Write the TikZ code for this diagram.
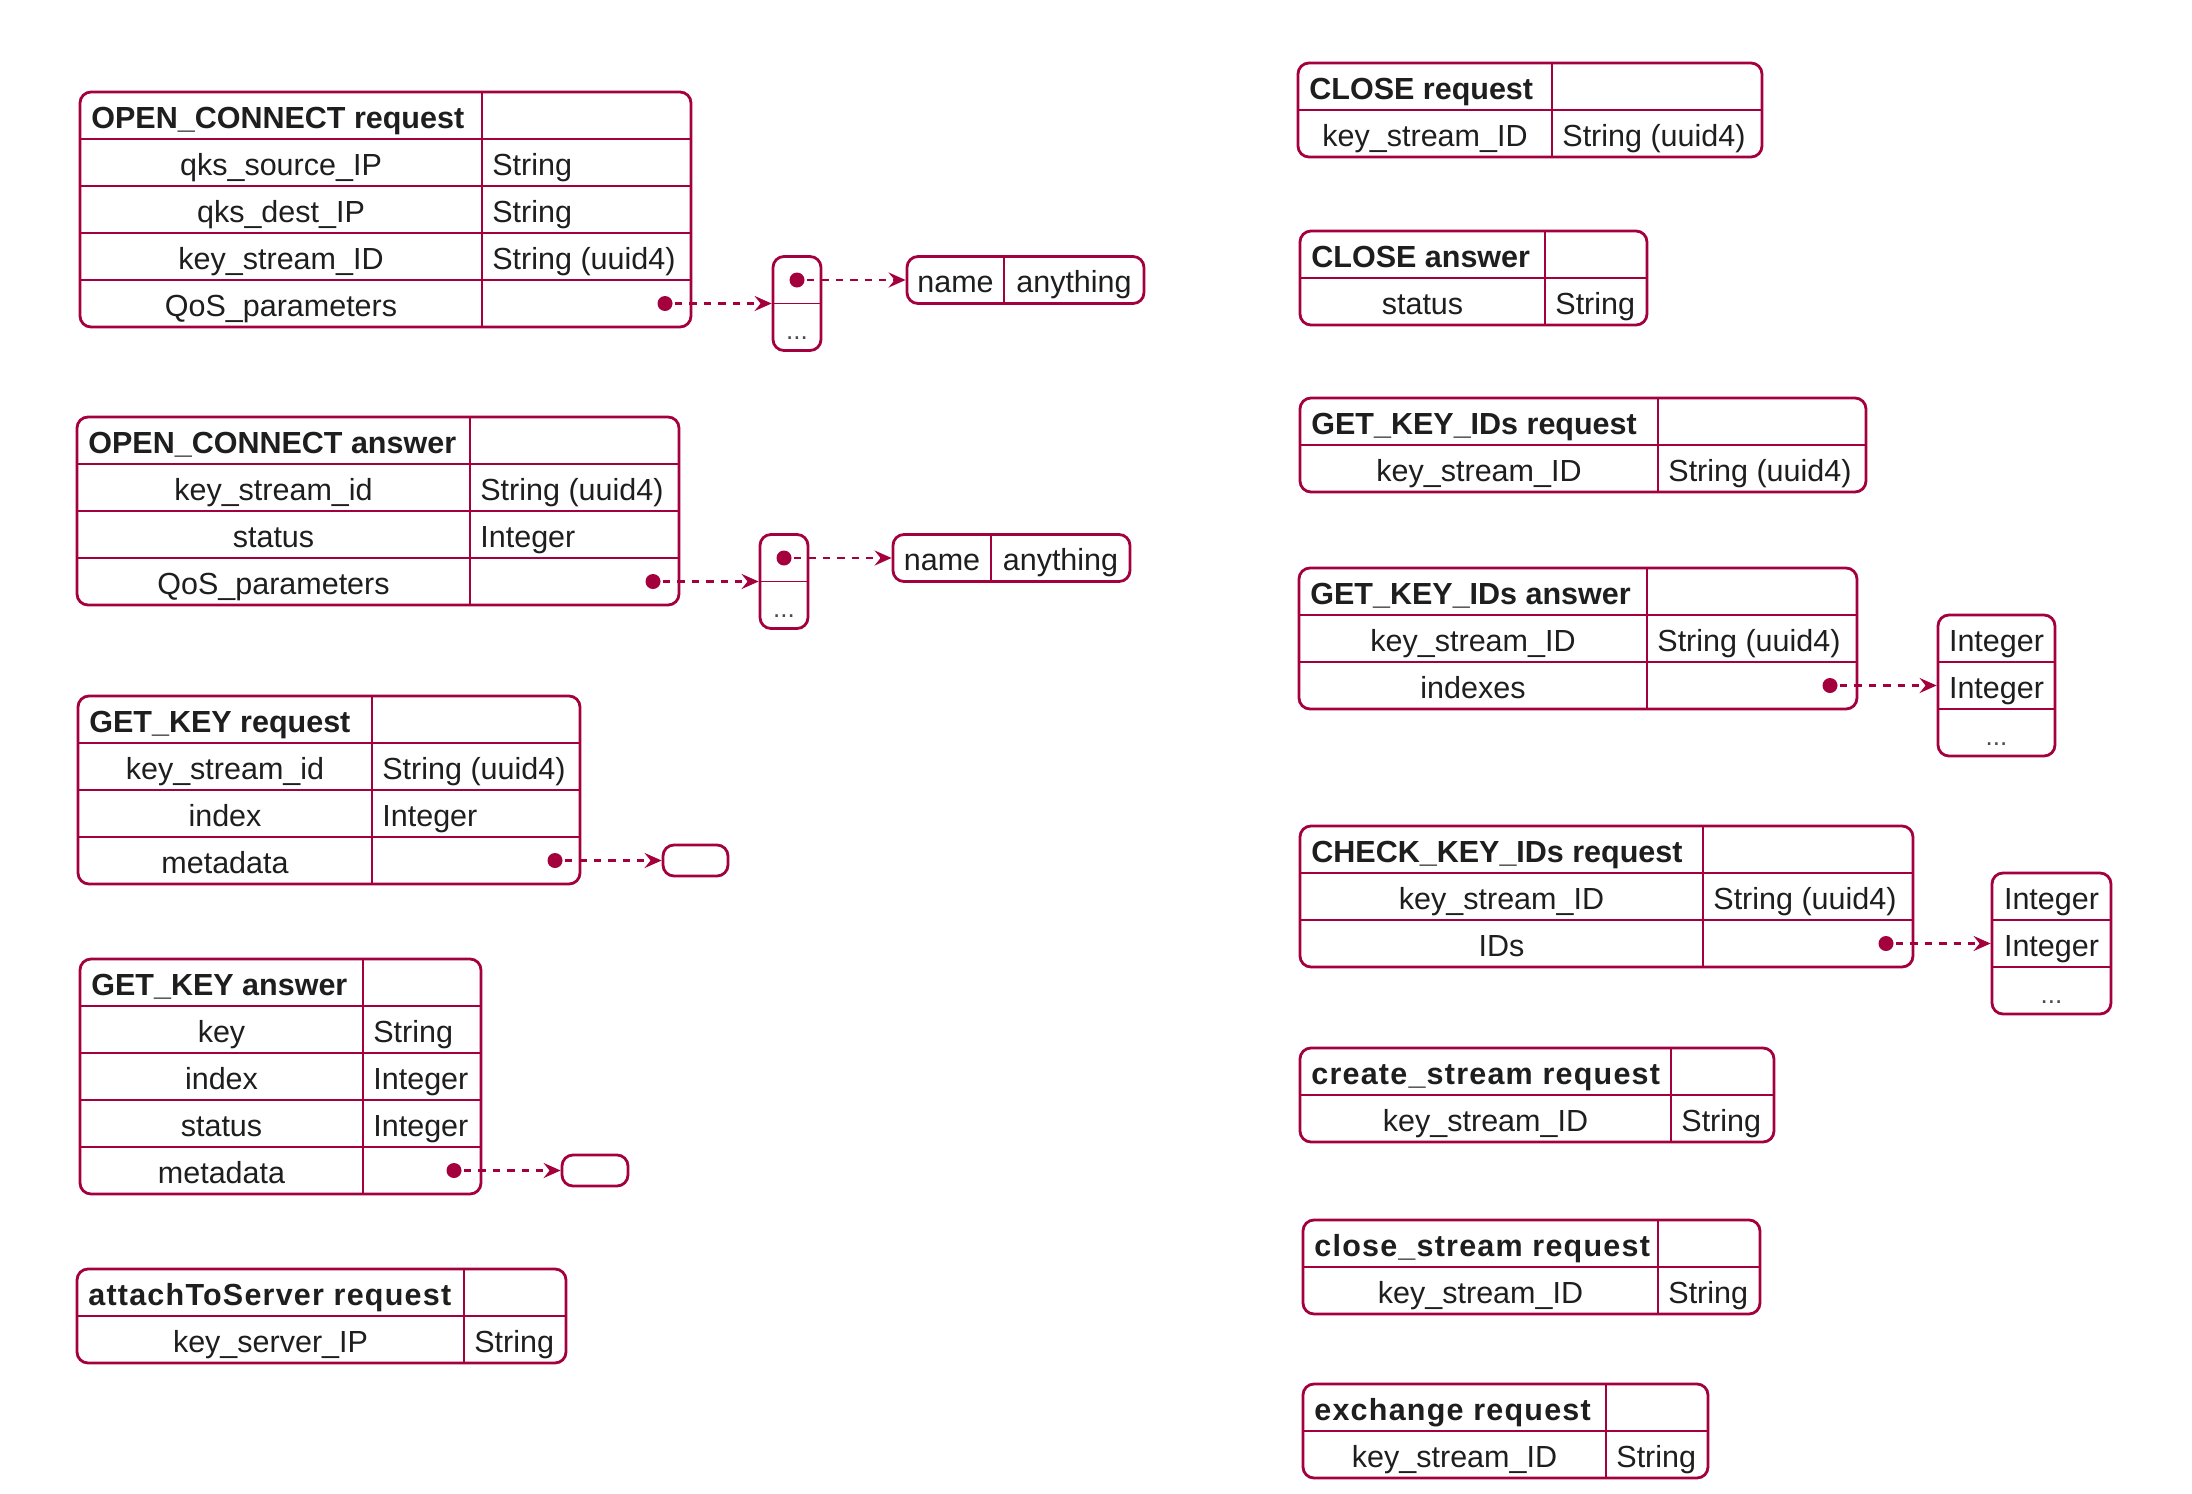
\documentclass[tikz,border=0pt]{standalone}
\usepackage{fontspec}
\setmainfont{Liberation Sans}
\newfontfamily\spacedsans[LetterSpace=4]{Liberation Sans}
\usetikzlibrary{arrows.meta,fit}

\definecolor{wine}{RGB}{165,0,62}
\definecolor{ink}{RGB}{30,30,30}

\def\rowh{47}
\newcommand\celltext{\fontsize{15.25}{18}\selectfont}
\newcommand\threedots{...}

\tikzset{
  frame/.style={draw=wine, line width=1.4pt, rounded corners=5.5pt, inner sep=0pt},
  rule/.style={draw=wine, line width=0.9pt},
  txt/.style={inner sep=0pt, text height=10.9pt, text depth=0pt, text=ink, font=\celltext, yshift=-0.8pt},
  title/.style={txt, anchor=west, font=\celltext\bfseries},
  widetitle/.style={txt, anchor=west, font=\spacedsans\celltext\bfseries},
  field/.style={txt, anchor=center},
  kind/.style={txt, anchor=west},
  more/.style={txt, anchor=center, text=ink!80, font=\fontsize{13}{15}\selectfont},
  pin/.style={circle, fill=wine, draw=none, inner sep=0pt, minimum size=7.5pt},
  link/.style={draw=wine, line width=1.3pt, dash pattern=on 3.7pt off 3.5pt,
    shorten <=1pt, -{Stealth[length=8.5pt,width=7.5pt,inset=3pt]}},
}

% #2 name, #3 left, #4 top, #5 right, #6 divider x, #7 heading, #8 rows field/type
\newcommand\msgtable[8][title]{%
  \node[#1] (#2-head) at (#3+11, #4+0.5*\rowh) {#7};
  \foreach \fname/\ftype [count=\i] in {#8} {
    \draw[rule] (#3, {#4+\i*\rowh}) -- (#5, {#4+\i*\rowh});
    \node[field] (#2-f\i) at ({(#3+#6)/2}, {#4+(\i+0.5)*\rowh}) {\fname};
    \node[kind] (#2-t\i) at (#6+10, {#4+(\i+0.5)*\rowh}) {\ftype};
    \xdef\rowcount{\i}
  }
  \pgfmathsetmacro\tablebottom{#4+(\rowcount+1)*\rowh}
  \draw[rule] (#6, #4) -- (#6, \tablebottom);
  \node[frame, fit={(#3,#4) (#5,\tablebottom)}] (#2) {};
}

\begin{document}
\begin{tikzpicture}[x=0.5pt, y=-0.5pt]
\useasboundingbox (0,0) rectangle (2192,1494);
\fill[white] (0,0) rectangle (2192,1494);

% ---------- left column ----------
\msgtable{ocreq}{80}{92}{691}{482}{OPEN\_CONNECT request}
  {qks\_source\_IP/String, qks\_dest\_IP/String, key\_stream\_ID/String (uuid4), QoS\_parameters/}
\msgtable{ocans}{77}{417}{679}{470}{OPEN\_CONNECT answer}
  {key\_stream\_id/String (uuid4), status/Integer, QoS\_parameters/}
\msgtable{gkreq}{78}{696}{580}{372}{GET\_KEY request}
  {key\_stream\_id/String (uuid4), index/Integer, metadata/}
\msgtable{gkans}{80}{959}{481}{363}{GET\_KEY answer}
  {key/String, index/Integer, status/Integer, metadata/}
\msgtable[widetitle]{attach}{77}{1269}{566}{464}{attachToServer request}
  {key\_server\_IP/String}

% ---------- right column ----------
\msgtable{closereq}{1298}{63}{1762}{1552}{CLOSE request}
  {key\_stream\_ID/String (uuid4)}
\msgtable{closeans}{1300}{231}{1647}{1545}{CLOSE answer}
  {status/String}
\msgtable{gkidreq}{1300}{398}{1866}{1658}{GET\_KEY\_IDs request}
  {key\_stream\_ID/String (uuid4)}
\msgtable{gkidans}{1299}{568}{1857}{1647}{GET\_KEY\_IDs answer}
  {key\_stream\_ID/String (uuid4), indexes/}
\msgtable{check}{1300}{826}{1913}{1703}{CHECK\_KEY\_IDs request}
  {key\_stream\_ID/String (uuid4), IDs/}
\msgtable[widetitle]{create}{1300}{1048}{1774}{1671}{create\_stream request}
  {key\_stream\_ID/String}
\msgtable[widetitle]{closestream}{1303}{1220}{1760}{1658}{close\_stream request}
  {key\_stream\_ID/String}
\msgtable[widetitle]{exchange}{1303}{1384}{1708}{1606}{exchange request}
  {key\_stream\_ID/String}

% ---------- QoS parameters of OPEN_CONNECT request ----------
\node[pin] (ocreq-pin) at (665,303.5) {};
\draw[rule] (773,303.5) -- (821,303.5);
\node[frame, fit={(773,256.5) (821,350.5)}] (ocreq-qos) {};
\node[pin] (ocreq-qos-pin) at (797,280) {};
\node[more] (ocreq-qos-more) at (797,327) {\threedots};
\draw[rule] (1004,256.5) -- (1004,303.5);
\node[frame, fit={(907,256.5) (1144,303.5)}] (ocreq-pair) {};
\node[field] (ocreq-pair-name) at (955.5,280) {name};
\node[field] (ocreq-pair-value) at (1074,280) {anything};
\draw[link] (ocreq-pin) -- (ocreq-qos.west |- ocreq-pin);
\draw[link] (ocreq-qos-pin) -- (ocreq-pair.west |- ocreq-qos-pin);

% ---------- QoS parameters of OPEN_CONNECT answer ----------
\node[pin] (ocans-pin) at (653,581.5) {};
\draw[rule] (760,581.5) -- (808,581.5);
\node[frame, fit={(760,534.5) (808,628.5)}] (ocans-qos) {};
\node[pin] (ocans-qos-pin) at (784,558) {};
\node[more] (ocans-qos-more) at (784,605) {\threedots};
\draw[rule] (991,534.5) -- (991,581.5);
\node[frame, fit={(893,534.5) (1130,581.5)}] (ocans-pair) {};
\node[field] (ocans-pair-name) at (942,558) {name};
\node[field] (ocans-pair-value) at (1060.5,558) {anything};
\draw[link] (ocans-pin) -- (ocans-qos.west |- ocans-pin);
\draw[link] (ocans-qos-pin) -- (ocans-pair.west |- ocans-qos-pin);

% ---------- metadata objects ----------
\node[pin] (gkreq-pin) at (555,860.5) {};
\node[frame, fit={(663,845) (728,876)}] (gkreq-meta) {};
\draw[link] (gkreq-pin) -- (gkreq-meta.west |- gkreq-pin);

\node[pin] (gkans-pin) at (454,1170.5) {};
\node[frame, fit={(562,1155) (628,1186)}] (gkans-meta) {};
\draw[link] (gkans-pin) -- (gkans-meta.west |- gkans-pin);

% ---------- integer lists ----------
\node[pin] (gkidans-pin) at (1830,685.5) {};
\draw[rule] (1938,662) -- (2055,662);
\draw[rule] (1938,709) -- (2055,709);
\node[frame, fit={(1938,615) (2055,756)}] (gkidans-list) {};
\node[field] (gkidans-l1) at (1996.5,638.5) {Integer};
\node[field] (gkidans-l2) at (1996.5,685.5) {Integer};
\node[more] (gkidans-l3) at (1996.5,732.5) {\threedots};
\draw[link] (gkidans-pin) -- (gkidans-list.west |- gkidans-pin);

\node[pin] (check-pin) at (1886,943.5) {};
\draw[rule] (1992,920) -- (2111,920);
\draw[rule] (1992,967) -- (2111,967);
\node[frame, fit={(1992,873) (2111,1014)}] (check-list) {};
\node[field] (check-l1) at (2051.5,896.5) {Integer};
\node[field] (check-l2) at (2051.5,943.5) {Integer};
\node[more] (check-l3) at (2051.5,990.5) {\threedots};
\draw[link] (check-pin) -- (check-list.west |- check-pin);
\end{tikzpicture}
\end{document}
